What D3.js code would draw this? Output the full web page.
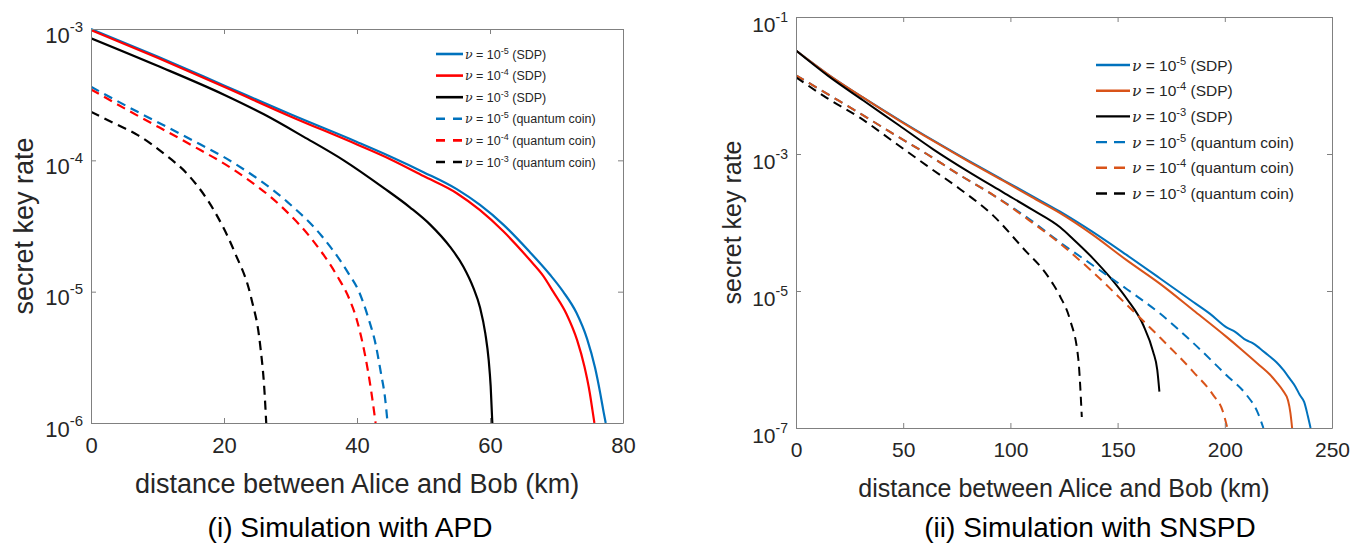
<!DOCTYPE html>
<html>
<head>
<meta charset="utf-8">
<style>
  body { margin: 0; background: #fff; }
  svg { display: block; font-family: "Liberation Sans", Arial, sans-serif; }
</style>
</head>
<body>
<svg width="1362" height="544"></svg>
<script src="https://cdn.jsdelivr.net/npm/d3@7"></script>
<script>

// ---- (i) APD : [distance km, secret key rate]
var apdSdpNu5 = [[0,1.0e-3],[10,6.17e-4],[20,3.72e-4],[30,2.24e-4],[40,1.38e-4],[45,1.07e-4],[50,8.13e-5],[55,6.03e-5],[58.5,4.57e-5],[62,3.24e-5],[66,2.0e-5],[69,1.35e-5],[71,1.0e-5],[73,6.9e-6],[74.6,4.37e-6],[75.8,2.63e-6],[76.6,1.66e-6],[77.1,1.2e-6],[77.4,1.0e-6]];
var apdSdpNu4 = [[0,9.8e-4],[10,6.03e-4],[20,3.63e-4],[30,2.16e-4],[40,1.32e-4],[45,1.02e-4],[50,7.59e-5],[55,5.62e-5],[58.5,4.17e-5],[62,2.88e-5],[66,1.74e-5],[68,1.32e-5],[69.5,1.0e-5],[71.5,6.76e-6],[73.1,4.27e-6],[74.2,2.69e-6],[75,1.7e-6],[75.4,1.26e-6],[75.7,1.0e-6]];
var apdSdpNu3 = [[0,8.51e-4],[10,5.25e-4],[20,3.16e-4],[26,2.24e-4],[32,1.51e-4],[38,1.0e-4],[44,6.17e-5],[48,4.37e-5],[51,3.24e-5],[54,2.19e-5],[56,1.55e-5],[57.5,1.07e-5],[58.5,7.59e-6],[59.3,4.79e-6],[59.8,3.02e-6],[60.1,1.91e-6],[60.35,1.0e-6]];
var apdQcNu5 = [[0,3.63e-4],[7,2.34e-4],[14.6,1.48e-4],[22.1,9.12e-5],[29.6,4.79e-5],[34.6,2.69e-5],[38.6,1.41e-5],[40.3,1.0e-5],[41.7,6.31e-6],[42.8,3.98e-6],[43.6,2.4e-6],[44.2,1.58e-6],[44.6,1.0e-6]];
var apdQcNu4 = [[0,3.47e-4],[7,2.19e-4],[14.6,1.35e-4],[22,8.13e-5],[29,4.27e-5],[33.2,2.51e-5],[37,1.32e-5],[38.8,8.91e-6],[40,6.03e-6],[41.2,3.31e-6],[41.9,2.09e-6],[42.4,1.41e-6],[42.8,1.0e-6]];
var apdQcNu3 = [[0,2.34e-4],[4,1.86e-4],[7.1,1.55e-4],[11,1.12e-4],[14.6,7.76e-5],[18.6,4.07e-5],[21.6,2.0e-5],[24.1,8.91e-6],[25.4,4.07e-6],[26.1,1.7e-6],[26.35,1.0e-6]];

// ---- (ii) SNSPD
var snSdpNu5 = [[0,3.24e-2],[15,1.45e-2],[31,6.76e-3],[48,3.16e-3],[64,1.58e-3],[80,8.13e-4],[96.6,4.17e-4],[110,2.45e-4],[123,1.45e-4],[138,7.41e-5],[154,3.39e-5],[170,1.51e-5],[185.3,6.92e-6],[193,4.68e-6],[200.8,2.95e-6],[205,2.51e-6],[210,1.91e-6],[213,1.74e-6],[216.4,1.45e-6],[220,1.17e-6],[224.1,9.12e-7],[227,7.24e-7],[230.3,5.25e-7],[233,3.98e-7],[235,3.02e-7],[237,2.4e-7],[238.7,1.51e-7],[240,1.0e-7]];
var snSdpNu4 = [[0,3.24e-2],[15,1.45e-2],[31,6.76e-3],[48,3.1e-3],[64,1.55e-3],[80,7.94e-4],[96.6,4.07e-4],[110,2.34e-4],[123,1.38e-4],[138,6.76e-5],[154.2,2.82e-5],[170,1.26e-5],[185.3,5.25e-6],[200.8,2.14e-6],[208,1.38e-6],[216.4,8.13e-7],[221,6.03e-7],[224.1,4.68e-7],[227,3.55e-7],[229.5,2.51e-7],[230.6,1.66e-7],[231.4,1.0e-7]];
var snSdpNu3 = [[0,3.24e-2],[15,1.38e-2],[31.4,6.03e-3],[48,2.63e-3],[64,1.17e-3],[80,5.62e-4],[96.6,2.75e-4],[110,1.55e-4],[123.2,8.51e-5],[129.2,5.75e-5],[138.7,2.95e-5],[146.5,1.58e-5],[154.2,7.76e-6],[162,3.16e-6],[166.6,1.29e-6],[168.5,7.08e-7],[169.5,3.39e-7]];
var snQcNu5 = [[0,1.41e-2],[15,7.41e-3],[30,3.89e-3],[45,2.0e-3],[61,1.0e-3],[76,5.01e-4],[92,2.51e-4],[108,1.17e-4],[123.2,5.13e-5],[138.7,2.34e-5],[154.2,1.07e-5],[169.8,4.68e-6],[185.3,1.74e-6],[200.8,5.89e-7],[210.2,3.02e-7],[215,1.78e-7],[218,1.0e-7]];
var snQcNu4 = [[0,1.41e-2],[15,7.41e-3],[30,3.89e-3],[45,2.0e-3],[61,1.0e-3],[76,5.01e-4],[92,2.51e-4],[108,1.12e-4],[124,4.68e-5],[138.7,1.86e-5],[154.2,6.31e-6],[169.8,2.09e-6],[185.3,6.61e-7],[194.6,3.02e-7],[199,1.78e-7],[201.2,1.0e-7]];
var snQcNu3 = [[0,1.32e-2],[14.3,6.61e-3],[29.8,3.39e-3],[45,1.55e-3],[61,6.76e-4],[76.4,3.09e-4],[92,1.26e-4],[107.5,3.72e-5],[115,2.09e-5],[119.9,1.26e-5],[123.2,8.32e-6],[127.8,3.8e-6],[131.7,1.0e-6],[133.3,1.45e-7]];

var nuExps = ["-5","-4","-3","-5","-4","-3"];
var kinds = ["(SDP)","(SDP)","(SDP)","(quantum coin)","(quantum coin)","(quantum coin)"];

var apdXTicks = [0,20,40,60,80];
var apdYTicks = [1e-6,1e-5,1e-4,1e-3];
var snXTicks = [0,50,100,150,200,250];
var snYTicks = [1e-7,1e-5,1e-3,1e-1];

var blue = "#0072bd", red = "#ff0000", orange = "#d95319", axisGray = "#808080";

var svg = d3.select("svg");

function drawPanel(cfg){
  var g = svg.append("g").attr("transform","translate("+cfg.left+","+cfg.top+")");
  var x = d3.scaleLinear().domain(cfg.xDomain).range([0,cfg.width]);
  var y = d3.scaleLog().domain(cfg.yDomain).range([cfg.height,0]);

  g.append("clipPath").attr("id",cfg.id+"clip")
    .append("rect").attr("y",-2).attr("width",cfg.width).attr("height",cfg.height+2);

  var line = d3.line().curve(d3.curveMonotoneX)
    .x(function(d){return x(d[0]);}).y(function(d){return y(d[1]);});

  g.append("g").attr("clip-path","url(#"+cfg.id+"clip)")
    .selectAll("path").data(cfg.series).enter()
    .append("path")
      .attr("d",function(s){return line(s.data);})
      .attr("fill","none")
      .attr("stroke",function(s){return s.color;})
      .attr("stroke-width",cfg.lw)
      .attr("stroke-dasharray",function(s){return s.dashed?cfg.dash:null;});

  // axes, ticks inside, box on all sides
  var xb = g.append("g").attr("transform","translate(0,"+cfg.height+")")
    .call(d3.axisBottom(x).tickValues(cfg.xTicks).tickSize(-5).tickSizeOuter(0).tickPadding(cfg.xPad));
  var xt = g.append("g").call(d3.axisTop(x).tickValues(cfg.xTicks).tickSize(-5).tickSizeOuter(0).tickFormat(""));
  var yl = g.append("g").call(d3.axisLeft(y).tickValues(cfg.yTicks).tickSize(-5).tickSizeOuter(0).tickPadding(8));
  var yr = g.append("g").attr("transform","translate("+cfg.width+",0)")
    .call(d3.axisRight(y).tickValues(cfg.yTicks).tickSize(-5).tickSizeOuter(0).tickFormat(""));

  [xb,xt,yl,yr].forEach(function(a){
    a.select(".domain").attr("stroke",axisGray);
    a.selectAll(".tick line").attr("stroke",axisGray);
  });
  xb.selectAll("text").attr("font-size",cfg.tickFont).attr("fill","#262626").attr("font-family",null);

  yl.selectAll(".tick text").each(function(d){
    var t = d3.select(this);
    t.text(null).attr("dy",null).attr("y",cfg.yLabY).attr("font-size",cfg.tickFont)
      .attr("fill","#262626").attr("font-family",null);
    t.append("tspan").text("10");
    t.append("tspan").attr("dy",-cfg.supDy).attr("font-size",cfg.supFont).text(Math.round(Math.log10(d)));
  });

  g.append("text")
    .attr("transform","translate("+cfg.yTitleX+","+(cfg.height/2)+") rotate(-90)")
    .attr("text-anchor","middle").attr("font-size",cfg.labFont).attr("fill","#262626")
    .text("secret key rate");
  g.append("text")
    .attr("x",cfg.width/2).attr("y",cfg.height+cfg.xTitleY)
    .attr("text-anchor","middle").attr("font-size",cfg.labFont).attr("fill","#262626")
    .text("distance between Alice and Bob (km)");
  svg.append("text")
    .attr("x",cfg.captionX).attr("y",cfg.captionY)
    .attr("text-anchor","middle").attr("font-size",cfg.capFont).attr("fill","#000")
    .text(cfg.caption);

  // legend
  var lg = g.append("g").attr("transform","translate("+cfg.leg.x+","+cfg.leg.y+")");
  var rows = lg.selectAll("g").data(cfg.series).enter().append("g")
    .attr("transform",function(d,i){return "translate(0,"+(i*cfg.leg.step)+")";});
  rows.append("line").attr("x1",0).attr("x2",cfg.leg.len).attr("y1",0).attr("y2",0)
    .attr("stroke",function(s){return s.color;}).attr("stroke-width",cfg.lw+0.4)
    .attr("stroke-dasharray",function(s){return s.dashed?cfg.leg.dash:null;});
  var lt = rows.append("text").attr("x",cfg.leg.len+2).attr("y",cfg.leg.font*0.36)
    .attr("font-size",cfg.leg.font).attr("fill","#262626");
  lt.append("tspan").attr("font-style","italic").attr("font-family","'DejaVu Serif', serif").text("\u03bd");
  lt.append("tspan").text(" = 10");
  lt.append("tspan").attr("dy",-cfg.leg.sup).attr("font-size",cfg.leg.font*0.72).text(function(s,i){return nuExps[i];});
  lt.append("tspan").attr("dy",cfg.leg.sup).text(function(s,i){return " "+kinds[i];});
}

drawPanel({
  id:"apd", left:91, top:29, width:532, height:394,
  xDomain:[0,80], yDomain:[1e-6,1e-3], xTicks:apdXTicks, yTicks:apdYTicks,
  lw:2.2, dash:"9,6", tickFont:22, supFont:15, supDy:11, yLabY:13, xPad:14,
  labFont:27, yTitleX:-58, xTitleY:70, captionX:350, captionY:537, capFont:28,
  caption:"(i) Simulation with APD",
  series:[
    {data:apdSdpNu5,color:blue,dashed:false},
    {data:apdSdpNu4,color:red,dashed:false},
    {data:apdSdpNu3,color:"#000",dashed:false},
    {data:apdQcNu5,color:blue,dashed:true},
    {data:apdQcNu4,color:red,dashed:true},
    {data:apdQcNu3,color:"#000",dashed:true}
  ],
  leg:{x:345, y:25, step:21.6, len:27, font:12.5, sup:5, dash:"9,8"}
});

drawPanel({
  id:"sn", left:796, top:17, width:536, height:411,
  xDomain:[0,250], yDomain:[1e-7,1e-1], xTicks:snXTicks, yTicks:snYTicks,
  lw:2, dash:"9,6", tickFont:21, supFont:14, supDy:10, yLabY:14, xPad:14,
  labFont:25, yTitleX:-55, xTitleY:69, captionX:1090, captionY:537, capFont:28,
  caption:"(ii) Simulation with SNSPD",
  series:[
    {data:snSdpNu5,color:blue,dashed:false},
    {data:snSdpNu4,color:orange,dashed:false},
    {data:snSdpNu3,color:"#000",dashed:false},
    {data:snQcNu5,color:blue,dashed:true},
    {data:snQcNu4,color:orange,dashed:true},
    {data:snQcNu3,color:"#000",dashed:true}
  ],
  leg:{x:300, y:48, step:25.7, len:34, font:15.5, sup:6, dash:"11,7"}
});

</script>
</body>
</html>
